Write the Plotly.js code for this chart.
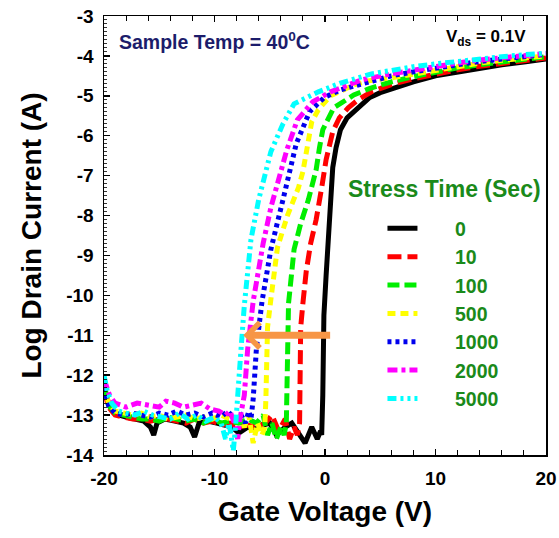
<!DOCTYPE html>
<html>
<head>
<meta charset="utf-8">
<script src="https://cdn.plot.ly/plotly-3.0.1.min.js"></script>
<style>html,body{margin:0;padding:0;background:#fff;}#chart{width:559px;height:538px;}</style>
</head>
<body>
<div id="chart"></div>
<script>
// Stress time labels (legend)
const stressLabels = ["0", "10", "100", "500", "1000", "2000", "5000"];

// Gate voltage (V) and log drain current (A)
const v0 = [-20,-19.6,-19.2,-18.6,-18,-17.2,-16.4,-15.8,-15.5,-15.2,-14.5,-13.6,-12.8,-12.2,-11.8,-11.4,-10.6,-9.8,-9,-8.4,-7.8,-7,-6.2,-5.6,-5,-4.4,-3.6,-3,-2.4,-1.8,-1.2,-0.7,-0.4,-0.3,-0.2,-0.1,0.1,0.3,0.5,0.7,1.0,1.4,2,3,4,5,6,8,10,12,14,16,18,20];
const i0 = [-12.25,-12.7,-12.9,-13.0,-13.05,-13.1,-13.15,-13.3,-13.5,-13.2,-13.1,-13.15,-13.2,-13.3,-13.55,-13.2,-13.15,-13.2,-13.25,-13.3,-13.45,-13.3,-13.35,-13.25,-13.2,-13.5,-13.3,-13.2,-13.45,-13.7,-13.3,-13.6,-13.4,-13.5,-12.5,-10.5,-9.5,-8.6,-7.6,-6.8,-6.3,-5.85,-5.55,-5.32,-5.05,-4.92,-4.82,-4.65,-4.5,-4.4,-4.3,-4.22,-4.15,-4.08];

const v10 = [-20,-19.6,-19,-18.2,-17.4,-16.6,-15.8,-15,-14.2,-13.4,-12.6,-11.8,-11,-10.2,-9.4,-8.6,-7.8,-7,-6.2,-5.4,-4.8,-4.2,-3.6,-3.2,-2.8,-2.5,-2.3,-2.25,-2.2,-2.0,-1.7,-1.3,-0.8,-0.3,0.1,0.7,1.3,2.1,3,4.2,6,8,10,12,14,16,18,20];
const i10 = [-12.35,-12.8,-13.0,-13.05,-13.1,-13.1,-13.15,-13.1,-13.1,-13.15,-13.2,-13.1,-13.2,-13.15,-13.25,-13.2,-13.3,-13.25,-13.3,-13.2,-13.0,-13.4,-13.1,-13.6,-13.3,-13.5,-13.2,-12.0,-10.8,-10.2,-9.4,-8.7,-8.1,-7.3,-6.6,-5.9,-5.55,-5.3,-5.1,-4.9,-4.72,-4.57,-4.45,-4.35,-4.26,-4.18,-4.11,-4.05];

const v100 = [-20,-19.6,-19,-18.2,-17.4,-16.6,-15.8,-15,-14.2,-13.4,-12.6,-11.8,-11,-10.2,-9.4,-8.6,-7.8,-7,-6.2,-5.6,-5.2,-4.8,-4.4,-4.0,-3.7,-3.5,-3.45,-3.4,-3.3,-2.8,-2.2,-1.5,-0.8,-0.5,-0.2,0.8,2.6,4,6,8,10,12,14,16,18,20];
const i100 = [-12.3,-12.75,-12.95,-13.0,-13.05,-13.1,-13.1,-13.15,-13.05,-13.1,-13.15,-13.1,-13.2,-13.1,-13.2,-13.15,-13.2,-13.1,-13.2,-13.0,-13.5,-13.2,-13.6,-13.3,-13.5,-13.2,-12.0,-10.8,-10.2,-8.85,-8.2,-7.6,-6.85,-6.3,-5.85,-5.3,-4.98,-4.82,-4.65,-4.52,-4.4,-4.3,-4.22,-4.15,-4.08,-4.02];

const v500 = [-20,-19.6,-19,-18.2,-17.4,-16.6,-15.8,-15,-14.2,-13.4,-12.6,-11.8,-11,-10.2,-9.4,-8.6,-7.8,-7.3,-6.9,-6.5,-6.1,-5.7,-5.45,-5.35,-5.3,-5.2,-4.9,-4.3,-3.4,-2.4,-2.0,-1.6,-1.2,-0.6,0.5,2.6,4,6,8,10,12,14,16,18,20];
const i500 = [-12.2,-12.7,-12.9,-12.95,-13.0,-12.95,-13.05,-13.0,-13.1,-13.05,-13.0,-13.1,-13.05,-13.1,-13.0,-13.1,-13.05,-13.3,-13.0,-13.7,-13.2,-13.5,-13.3,-12.6,-12.0,-10.8,-10.1,-8.8,-8.0,-7.3,-6.9,-6.2,-5.65,-5.35,-5.0,-4.73,-4.62,-4.55,-4.45,-4.35,-4.26,-4.18,-4.11,-4.05,-4.0];

const v1000 = [-20,-19.6,-19,-18.2,-17.4,-16.6,-15.8,-15,-14.2,-13.4,-12.6,-11.8,-11,-10.2,-9.4,-8.8,-8.2,-7.6,-7.2,-6.9,-6.7,-6.5,-6.2,-5.7,-4.9,-3.8,-3.3,-2.6,-1.4,-0.1,1.4,3.3,6,8,10,12,14,16,18,20];
const i1000 = [-12.3,-12.75,-12.95,-13.0,-12.95,-13.0,-13.05,-12.95,-13.0,-12.9,-13.0,-12.95,-13.05,-12.95,-13.05,-12.9,-13.1,-13.0,-13.2,-12.9,-13.1,-12.6,-11.3,-10.15,-8.85,-7.6,-7.0,-6.2,-5.4,-5.05,-4.85,-4.7,-4.5,-4.4,-4.3,-4.22,-4.14,-4.07,-4.01,-3.96];

const v2000 = [-20,-19.5,-19,-18,-17,-16,-15,-14.4,-13.6,-12.8,-12,-11.2,-10.4,-9.6,-9.0,-8.6,-8.2,-7.9,-7.7,-7.5,-7.3,-7.0,-6.5,-5.6,-4.9,-4.1,-3.45,-2.5,-1.1,0.5,3.3,6,8,10,12,14,16,18,20];
const i2000 = [-12.1,-12.5,-12.7,-12.8,-12.7,-12.75,-12.8,-12.65,-12.7,-12.8,-12.75,-12.7,-12.85,-12.9,-13.0,-12.9,-13.2,-13.6,-13.1,-12.8,-12.5,-11.35,-10.15,-8.7,-7.8,-7.0,-6.35,-5.6,-5.15,-4.9,-4.6,-4.45,-4.35,-4.26,-4.18,-4.1,-4.04,-3.98,-3.94];

const v5000 = [-20,-19.7,-19.3,-18.7,-18,-17.2,-16.4,-15.6,-14.8,-14,-13.2,-12.4,-11.6,-10.8,-10,-9.4,-9.0,-8.7,-8.5,-8.3,-8.1,-7.95,-7.6,-7.3,-6.7,-6.0,-5.3,-4.9,-3.8,-2.8,-0.6,1.4,4.2,6,8,10,12,14,16,18,20];
const i5000 = [-12.0,-12.4,-12.7,-12.9,-12.95,-13.0,-12.9,-13.0,-13.05,-13.1,-12.95,-13.1,-13.0,-13.15,-13.05,-13.2,-13.6,-13.2,-13.5,-13.9,-13.3,-12.6,-11.35,-10.25,-8.6,-7.6,-6.85,-6.4,-5.7,-5.2,-4.9,-4.68,-4.45,-4.35,-4.27,-4.2,-4.13,-4.07,-4.02,-3.97,-3.93];

const xTickVals = [-20, -10, 0, 10, 20];
const yTickVals = [-14,-13,-12,-11,-10,-9,-8,-7,-6,-5,-4,-3];

const seriesV = [v0, v10, v100, v500, v1000, v2000, v5000];
const seriesI = [i0, i10, i100, i500, i1000, i2000, i5000];
const colors = ["#000000", "#ff0000", "#00ee00", "#ffff00", "#0000ee", "#ff00ff", "#00ffff"];
const dashes = ["solid", "14px,6px", "12px,5px", "8px,5px", "4px,4px", "10px,4px,4px,4px", "9px,4px,3px,4px,3px,4px"];

const F = "Arial, 'Liberation Sans', sans-serif";
const legendGreen = "#1a8a1a";
const NB = "\u00a0\u00a0\u00a0\u00a0\u00a0\u00a0";

const traces = seriesV.map((v, k) => ({
  x: v, y: seriesI[k], type: "scatter", mode: "lines",
  name: NB + stressLabels[k],
  line: {color: colors[k], width: 5, dash: dashes[k]}
}));

const layout = {
  width: 559, height: 538,
  margin: {l: 104, r: 13, t: 16, b: 83},
  paper_bgcolor: "#fff", plot_bgcolor: "#fff",
  font: {family: F, color: "#000"},
  showlegend: true,
  legend: {
    x: 0.63, y: 0.56, xanchor: "left", yanchor: "top",
    bgcolor: "rgba(0,0,0,0)", borderwidth: 0,
    font: {family: F, size: 19.5, color: legendGreen, weight: "bold"},
    itemwidth: 30
  },
  xaxis: {
    range: [-20, 20], tickvals: xTickVals, ticktext: xTickVals.map(String),
    ticks: "inside", ticklen: 6, tickwidth: 1.5, tickcolor: "#000",
    showline: true, linecolor: "#000", linewidth: 1.5, mirror: "ticks",
    showgrid: false, zeroline: false, ticklabelstandoff: 6,
    minor: {dtick: 2, ticks: "inside", ticklen: 5, tickcolor: "#000", tickwidth: 1},
    tickfont: {family: F, size: 19, color: "#000", weight: "bold"},
    title: {text: "Gate Voltage (V)", font: {family: F, size: 28, color: "#000", weight: "bold"}, standoff: 13}
  },
  yaxis: {
    range: [-14, -3], tickvals: yTickVals, ticktext: yTickVals.map(String),
    ticks: "inside", ticklen: 6, tickwidth: 1.5, tickcolor: "#000",
    showline: true, linecolor: "#000", linewidth: 1.5, mirror: true,
    showgrid: false, zeroline: false, ticklabelstandoff: 5,
    minor: {dtick: 0.1, ticks: "inside", ticklen: 3, tickcolor: "#000", tickwidth: 0.8},
    tickfont: {family: F, size: 19, color: "#000", weight: "bold"},
    title: {text: "Log Drain Current (A)", font: {family: F, size: 28, color: "#000", weight: "bold"}, standoff: 16}
  },
  annotations: [
    {xref: "paper", yref: "paper", x: 0.03, y: 0.943, xanchor: "left", yanchor: "middle", showarrow: false,
     text: "Sample Temp = 40<sup>0</sup>C", font: {family: F, size: 19.5, color: "#1c1c6b", weight: "bold"}},
    {xref: "paper", yref: "paper", x: 0.96, y: 0.95, xanchor: "right", yanchor: "middle", showarrow: false,
     text: "V<sub>ds</sub> = 0.1V", font: {family: F, size: 17, color: "#000", weight: "bold"}},
    {xref: "paper", yref: "paper", x: 0.548, y: 0.605, xanchor: "left", yanchor: "middle", showarrow: false,
     text: "Stress Time (Sec)", font: {family: F, size: 23, color: legendGreen, weight: "bold"}},
    {xref: "x", yref: "y", axref: "x", ayref: "y", x: -7.4, y: -11.0, ax: 0.6, ay: -11.0,
     showarrow: true, arrowhead: 4, arrowsize: 0.7, arrowwidth: 7, arrowcolor: "#f79646", text: ""}
  ]
};

Plotly.newPlot("chart", traces, layout, {displayModeBar: false, staticPlot: true});
</script>
</body>
</html>
